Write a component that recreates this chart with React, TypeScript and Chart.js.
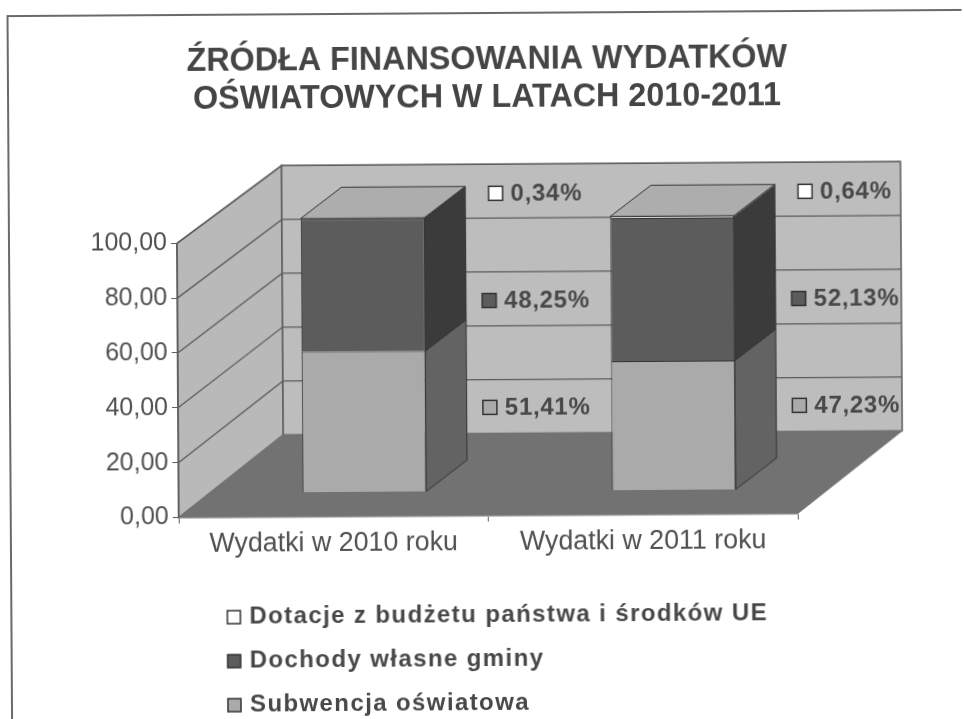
import React, { useEffect, useRef } from "react";
import { Chart, registerables } from "chart.js";

Chart.register(...registerables);

const titleLines = ["ŹRÓDŁA FINANSOWANIA WYDATKÓW", "OŚWIATOWYCH W LATACH 2010-2011"];
const categories = ["Wydatki w 2010 roku", "Wydatki w 2011 roku"];
const subwencja = [51.41, 47.23];
const dochody = [48.25, 52.13];
const dotacje = [0.34, 0.64];
const seriesNames = ["Subwencja oświatowa", "Dochody własne gminy", "Dotacje z budżetu państwa i środków UE"];
const yTicks = { min: 0, max: 100, step: 20 };

const FONT = '"Liberation Sans", Arial, sans-serif';
const INK = "#505050";
const LINE = "#5c5c5c";
const EDGE = "#333333";
const COLORS = ["#aaaaaa", "#5c5c5c", "#ffffff"];
const SIDES = ["#636363", "#3b3b3b", "#8a8a8a"];
const TOP_FACE = "#adadad";

// 3D projection of the box: how far the back wall sits from the front plane
const BOX_DX = 105;
const BOX_DY_BOTTOM = -82;
const BOX_DY_TOP = -77;
const BAR_SHIFT_X = 31;
const BAR_SHIFT_Y = -24;
const BAR_DX = 41;
const BAR_DY = -31;

const pct = (v: number) => v.toFixed(2).replace(".", ",") + "%";

function poly(ctx: CanvasRenderingContext2D, pts: number[][], fill: string, stroke: string, lw = 1) {
  ctx.beginPath();
  pts.forEach(([x, y], i) => (i ? ctx.lineTo(x, y) : ctx.moveTo(x, y)));
  ctx.closePath();
  ctx.fillStyle = fill;
  ctx.fill();
  ctx.lineWidth = lw;
  ctx.strokeStyle = stroke;
  ctx.stroke();
}

// y position on the back wall of a value on the value axis
function backY(y: any, v: number) {
  const f = (v - yTicks.min) / (yTicks.max - yTicks.min);
  return y.getPixelForValue(v) + BOX_DY_BOTTOM + (BOX_DY_TOP - BOX_DY_BOTTOM) * f;
}

const box3d = {
  id: "box3d",
  afterLayout(chart: any) {
    // the title is centred on the page, not on the plot
    chart.titleBlock.left = 14;
    chart.titleBlock.right = 964;
  },
  beforeDraw(chart: any) {
    const { ctx } = chart;
    const x = chart.scales.x;
    const y = chart.scales.y;
    const l = x.left;
    const r = x.right;
    const t = y.getPixelForValue(yTicks.max);
    const b = y.getPixelForValue(yTicks.min);
    const bt = backY(y, yTicks.max);
    const bb = backY(y, yTicks.min);
    ctx.save();
    // frame of the page
    ctx.strokeStyle = "#6a6a6a";
    ctx.lineWidth = 2;
    ctx.beginPath();
    ctx.moveTo(10, 760);
    ctx.lineTo(10, 15);
    ctx.lineTo(1000, 15);
    ctx.stroke();
    // left wall
    poly(ctx, [[l, b], [l, t], [l + BOX_DX, bt], [l + BOX_DX, bb]], "#b9b9b9", LINE, 1.5);
    // back wall
    poly(ctx, [[l + BOX_DX, bt], [r + BOX_DX, bt], [r + BOX_DX, bb], [l + BOX_DX, bb]], "#bdbdbd", LINE, 1.5);
    // floor
    poly(ctx, [[l, b], [l + BOX_DX, bb], [r + BOX_DX, bb], [r, b]], "#727272", "#727272", 1);
    // grid lines on left and back walls
    ctx.strokeStyle = LINE;
    ctx.lineWidth = 1.3;
    y.ticks.forEach((tk: any) => {
      if (tk.value === yTicks.min) return;
      const py = y.getPixelForValue(tk.value);
      const pb = backY(y, tk.value);
      ctx.beginPath();
      ctx.moveTo(l, py);
      ctx.lineTo(l + BOX_DX, pb);
      ctx.lineTo(r + BOX_DX, pb);
      ctx.stroke();
    });
    ctx.restore();
  },
  beforeDatasetsDraw(chart: any) {
    const { ctx } = chart;
    ctx.save();
    ctx.translate(BAR_SHIFT_X, BAR_SHIFT_Y);
    const n = chart.data.datasets.length;
    chart.data.datasets.forEach((_: any, di: number) => {
      chart.getDatasetMeta(di).data.forEach((bar: any) => {
        const hw = bar.width / 2;
        const rx = bar.x + hw;
        poly(ctx, [[rx, bar.y], [rx + BAR_DX, bar.y + BAR_DY], [rx + BAR_DX, bar.base + BAR_DY], [rx, bar.base]], SIDES[di], EDGE, 1);
        if (di === n - 1) {
          const lx = bar.x - hw;
          poly(ctx, [[lx, bar.y], [lx + BAR_DX, bar.y + BAR_DY], [rx + BAR_DX, bar.y + BAR_DY], [rx, bar.y]], TOP_FACE, EDGE, 1);
        }
      });
    });
  },
  afterDatasetsDraw(chart: any) {
    const { ctx } = chart;
    ctx.restore();
    ctx.save();
    const y = chart.scales.y;
    const levels = [9.7, 49.4, 89.2];
    // value labels beside each bar, on the back wall
    chart.data.datasets.forEach((ds: any, di: number) => {
      chart.getDatasetMeta(di).data.forEach((bar: any, i: number) => {
        const text = pct(ds.data[i]);
        const backRight = bar.x + bar.width / 2 + BAR_SHIFT_X + BAR_DX;
        const cy = backY(y, levels[di]);
        ctx.font = `bold 24px ${FONT}`;
        ctx.letterSpacing = "0.7px";
        const tw = ctx.measureText(text).width;
        const sw = 14;
        const gap = 8;
        const left = backRight + 70 - (sw + gap + tw) / 2;
        ctx.fillStyle = ds.backgroundColor;
        ctx.strokeStyle = EDGE;
        ctx.lineWidth = 1.5;
        ctx.fillRect(left, cy - 7, sw, sw);
        ctx.strokeRect(left, cy - 7, sw, sw);
        ctx.fillStyle = "#484848";
        ctx.textAlign = "left";
        ctx.textBaseline = "middle";
        ctx.fillText(text, left + sw + gap, cy + 1);
      });
    });
    // legend, top series first
    const rows = [...chart.data.datasets].reverse();
    const legendRows = [617, 661, 705];
    rows.forEach((ds: any, i: number) => {
      const cy = legendRows[i];
      ctx.fillStyle = ds.backgroundColor;
      ctx.strokeStyle = EDGE;
      ctx.lineWidth = 1.5;
      ctx.fillRect(226, cy - 6, 13, 13);
      ctx.strokeRect(226, cy - 6, 13, 13);
      ctx.fillStyle = "#484848";
      ctx.font = `bold 24px ${FONT}`;
      ctx.letterSpacing = "1.4px";
      ctx.textAlign = "left";
      ctx.textBaseline = "middle";
      ctx.fillText(ds.label, 248, cy);
    });
    ctx.letterSpacing = "0px";
    ctx.restore();
  },
};

export default function App() {
  const ref = useRef<HTMLCanvasElement>(null);
  useEffect(() => {
    const chart = new Chart(ref.current as HTMLCanvasElement, {
      type: "bar",
      data: {
        labels: categories,
        datasets: [
          { label: seriesNames[0], data: subwencja, backgroundColor: COLORS[0], borderColor: EDGE, borderWidth: 1 },
          { label: seriesNames[1], data: dochody, backgroundColor: COLORS[1], borderColor: EDGE, borderWidth: 1 },
          { label: seriesNames[2], data: dotacje, backgroundColor: COLORS[2], borderColor: EDGE, borderWidth: 1 },
        ],
      },
      options: {
        animation: false,
        responsive: false,
        layout: { padding: { top: 0, left: 88, right: 167, bottom: 151.5 } },
        datasets: { bar: { categoryPercentage: 0.4, barPercentage: 1 } },
        plugins: {
          legend: { display: false },
          tooltip: { enabled: false },
          title: {
            display: true,
            text: titleLines,
            color: "#454545",
            font: { family: FONT, size: 32.3, weight: "bold", lineHeight: 1.15 },
            padding: { top: 44, bottom: 125 },
          },
        },
        scales: {
          x: {
            stacked: true,
            afterFit: (s: any) => { s.height = 50; },
            border: { color: "#888888", width: 1.5 },
            grid: { offset: true, drawOnChartArea: false, drawTicks: true, tickLength: 6, color: LINE },
            ticks: { color: INK, padding: 5, maxRotation: 0, font: { family: FONT, size: 26.8 } },
          },
          y: {
            stacked: true,
            min: yTicks.min,
            max: yTicks.max,
            afterFit: (s: any) => { s.width = 90; },
            border: { color: LINE, width: 1.5 },
            grid: { drawOnChartArea: false, tickLength: 6, color: LINE },
            ticks: {
              stepSize: yTicks.step,
              color: INK,
              padding: 4,
              font: { family: FONT, size: 25 },
              callback: (v: any) => Number(v).toFixed(2).replace(".", ","),
            },
          },
        },
      },
      plugins: [box3d],
    } as any);
    return () => chart.destroy();
  }, []);
  return (
    <div style={{ position: "fixed", inset: 0, overflow: "hidden", background: "#ffffff" }}>
      <canvas
        ref={ref}
        width={964}
        height={719}
        style={{
          display: "block",
          transformOrigin: "180px 400px",
          transform: "rotate(-0.37deg)",
          filter: "blur(0.7px)",
        }}
      />
    </div>
  );
}
